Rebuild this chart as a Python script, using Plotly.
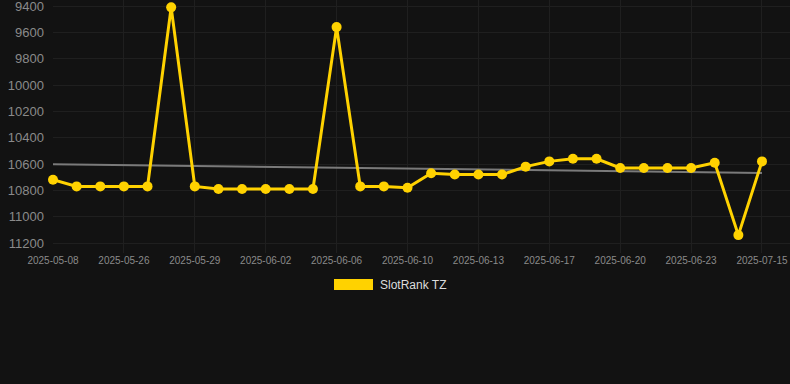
import numpy as np
import plotly.graph_objects as go

dates = [
    "2025-05-08", "2025-05-12", "2025-05-19", "2025-05-26", "2025-05-27", "2025-05-28",
    "2025-05-29", "2025-05-30", "2025-05-31", "2025-06-02", "2025-06-03", "2025-06-04",
    "2025-06-06", "2025-06-07", "2025-06-08", "2025-06-10", "2025-06-11", "2025-06-12",
    "2025-06-13", "2025-06-14", "2025-06-16", "2025-06-17", "2025-06-18", "2025-06-19",
    "2025-06-20", "2025-06-21", "2025-06-22", "2025-06-23", "2025-06-25", "2025-07-01",
    "2025-07-15",
]
ranks = [
    10720, 10770, 10770, 10770, 10770, 9410,
    10770, 10790, 10790, 10790, 10790, 10790,
    9560, 10770, 10770, 10780, 10670, 10680,
    10680, 10680, 10620, 10580, 10560, 10560,
    10630, 10630, 10630, 10630, 10590, 11140,
    10580,
]
y_ticks = [9400, 9600, 9800, 10000, 10200, 10400, 10600, 10800, 11000, 11200]
series_name = "SlotRank TZ"

idx = np.arange(len(ranks))
slope, intercept = np.polyfit(idx, np.array(ranks, dtype=float), 1)
trend = slope * idx + intercept

fig = go.Figure()
fig.add_trace(go.Scatter(
    x=dates, y=trend, mode="lines",
    line=dict(color="#7a7a7a", width=2),
    hoverinfo="skip", showlegend=False,
))
fig.add_trace(go.Scatter(
    x=dates, y=ranks, mode="lines+markers", name=series_name,
    line=dict(color="#FFD200", width=3),
    marker=dict(color="#FFD200", size=10),
    cliponaxis=False, showlegend=False,
))

tick_idx = list(range(0, len(dates), 3))
fig.update_layout(
    width=790, height=384,
    margin=dict(l=53, r=0, t=0, b=131),
    paper_bgcolor="#121212", plot_bgcolor="#121212",
    font=dict(family="Arial, Liberation Sans, sans-serif", color="#8a8a8a"),
    xaxis=dict(
        type="category", range=[0, 31.185],
        tickvals=[dates[i] for i in tick_idx], ticktext=[dates[i] for i in tick_idx],
        tickfont=dict(size=10, color="#8a8a8a"),
        showgrid=True, gridcolor="#1f1f1f", gridwidth=1,
        zeroline=False, showline=False, ticklabeloverflow="allow",
    ),
    yaxis=dict(
        autorange=False, range=[11276, 9354],
        tickvals=y_ticks, tickformat="d",
        tickfont=dict(size=13, color="#8a8a8a"),
        showgrid=True, gridcolor="#1f1f1f", gridwidth=1,
        zeroline=False, showline=False, ticklabelstandoff=8,
        ticklabeloverflow="allow",
    ),
    showlegend=False,
    shapes=[dict(
        type="rect", xref="paper", yref="paper",
        x0=(334 - 53) / 737, x1=(373 - 53) / 737,
        y0=(253 - 290) / 253, y1=(253 - 279) / 253,
        fillcolor="#FFD200", line=dict(width=0),
    )],
    annotations=[dict(
        text=series_name, xref="paper", yref="paper",
        x=(378 - 53) / 737, y=(253 - 284.5) / 253,
        xanchor="left", yanchor="middle", showarrow=False,
        font=dict(size=12, color="#dddddd"),
    )],
)

fig.write_html(
    "out.html",
    config={"displayModeBar": False},
    post_script="document.body.style.margin='0';document.body.style.background='#121212';",
)
